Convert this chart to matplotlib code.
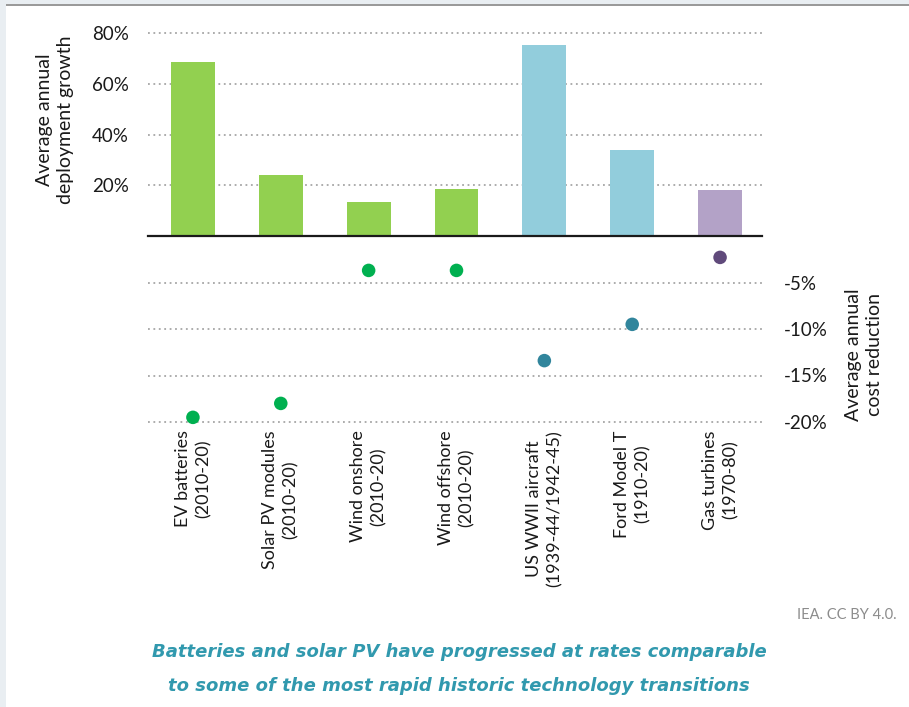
import matplotlib
matplotlib.use('Agg')
import matplotlib.pyplot as plt
from matplotlib.patches import Rectangle
from matplotlib.ticker import FuncFormatter

plt.rcParams['font.family'] = ['Lato', 'DejaVu Sans']

categories = ['EV batteries\n(2010-20)', 'Solar PV modules\n(2010-20)', 'Wind onshore\n(2010-20)',
              'Wind offshore\n(2010-20)', 'US WWII aircraft\n(1939-44/1942-45)', 'Ford Model T\n(1910-20)',
              'Gas turbines\n(1970-80)']
deployment_growth = [68.5, 24.0, 13.4, 18.5, 75.2, 33.9, 18.1]
cost_reduction = [-19.5, -18.0, -3.7, -3.7, -13.4, -9.5, -2.3]
bar_colors = ['#92D050', '#92D050', '#92D050', '#92D050', '#92CDDC', '#92CDDC', '#B3A2C7']
dot_colors = ['#00B050', '#00B050', '#00B050', '#00B050', '#31859C', '#31859C', '#604A7B']
title_lines = ['Batteries and solar PV have progressed at rates comparable',
               'to some of the most rapid historic technology transitions']

W, H = 909, 707
fig = plt.figure(figsize=(W / 100, H / 100), dpi=100)
fig.patch.set_facecolor('white')

# frame strips from the report page
fig.add_artist(Rectangle((0, 0), 6 / W, 1, transform=fig.transFigure, color='#E9EEF2', lw=0))
fig.add_artist(Rectangle((0, 1 - 4 / H), 1, 4 / H, transform=fig.transFigure, color='#E9EEF2', lw=0))
fig.add_artist(Rectangle((6 / W, 1 - 6 / H), 1, 2 / H, transform=fig.transFigure, color='#9A9A9A', lw=0))

x = list(range(len(categories)))
left, right = 148 / W, 762 / W
xlim = (-(193 - 148) / 88, 6 + (762 - 720) / 88)
grid_kw = dict(color='#A6A6A6', linestyle=(0, (1, 2)), linewidth=1.3)

# top: deployment growth
ax1 = fig.add_axes([left, (H - 236) / H, right - left, 203 / H])
ax1.bar(x, deployment_growth, width=0.5, color=bar_colors, zorder=2)
ax1.set_xlim(*xlim)
ax1.set_ylim(0, 80)
ax1.set_yticks([20, 40, 60, 80])
ax1.yaxis.set_major_formatter(FuncFormatter(lambda v, p: f'{v:.0f}%'))
for t in [20, 40, 60, 80]:
    ax1.axhline(t, zorder=1, clip_on=False, **grid_kw)
ax1.axhline(0, color='#1A1A1A', linewidth=1.6, zorder=3, clip_on=False)
ax1.tick_params(axis='y', length=0, pad=14, labelsize=13.5, colors='#1A1A1A')
ax1.set_xticks([])
for s in ax1.spines.values():
    s.set_visible(False)
ax1.patch.set_alpha(0)

# bottom: cost reduction
ax2 = fig.add_axes([left, (H - 422) / H, right - left, 186 / H])
ax2.scatter(x, cost_reduction, s=95, color=dot_colors, zorder=3, clip_on=False, linewidths=0)
ax2.set_xlim(*xlim)
ax2.set_ylim(-20, 0)
ax2.yaxis.tick_right()
ax2.set_yticks([-5, -10, -15, -20])
ax2.yaxis.set_major_formatter(FuncFormatter(lambda v, p: f'{v:.0f}%'))
for t in [-5, -10, -15, -20]:
    ax2.axhline(t, zorder=1, clip_on=False, **grid_kw)
ax2.tick_params(axis='y', length=0, pad=16, labelsize=13.5, colors='#1A1A1A')
ax2.set_xticks(x)
ax2.set_xticklabels(categories, rotation=90, va='top', ha='center', multialignment='center',
                    fontsize=13, color='#1A1A1A', linespacing=1.35)
ax2.tick_params(axis='x', length=0, pad=6)
for s in ax2.spines.values():
    s.set_visible(False)
ax2.patch.set_alpha(0)

fig.text(55 / W, 1 - 120 / H, 'Average annual\ndeployment growth', rotation=90, linespacing=1.35,
         ha='center', va='center', multialignment='center', fontsize=14, color='#1A1A1A')
fig.text(864 / W, 1 - 355 / H, 'Average annual\ncost reduction', rotation=90, linespacing=1.35,
         ha='center', va='center', multialignment='center', fontsize=14, color='#1A1A1A')

fig.text(897 / W, 1 - 615 / H, 'IEA. CC BY 4.0.', ha='right', va='center', fontsize=10.5, color='#8C8C8C')
for i, line in enumerate(title_lines):
    fig.text(459 / W, 1 - (652 + 34 * i) / H, line, ha='center', va='center',
             fontsize=13, fontweight='bold', fontstyle='italic', color='#3199AE',
             family='DejaVu Sans')

fig.savefig('out.png', dpi=100)
